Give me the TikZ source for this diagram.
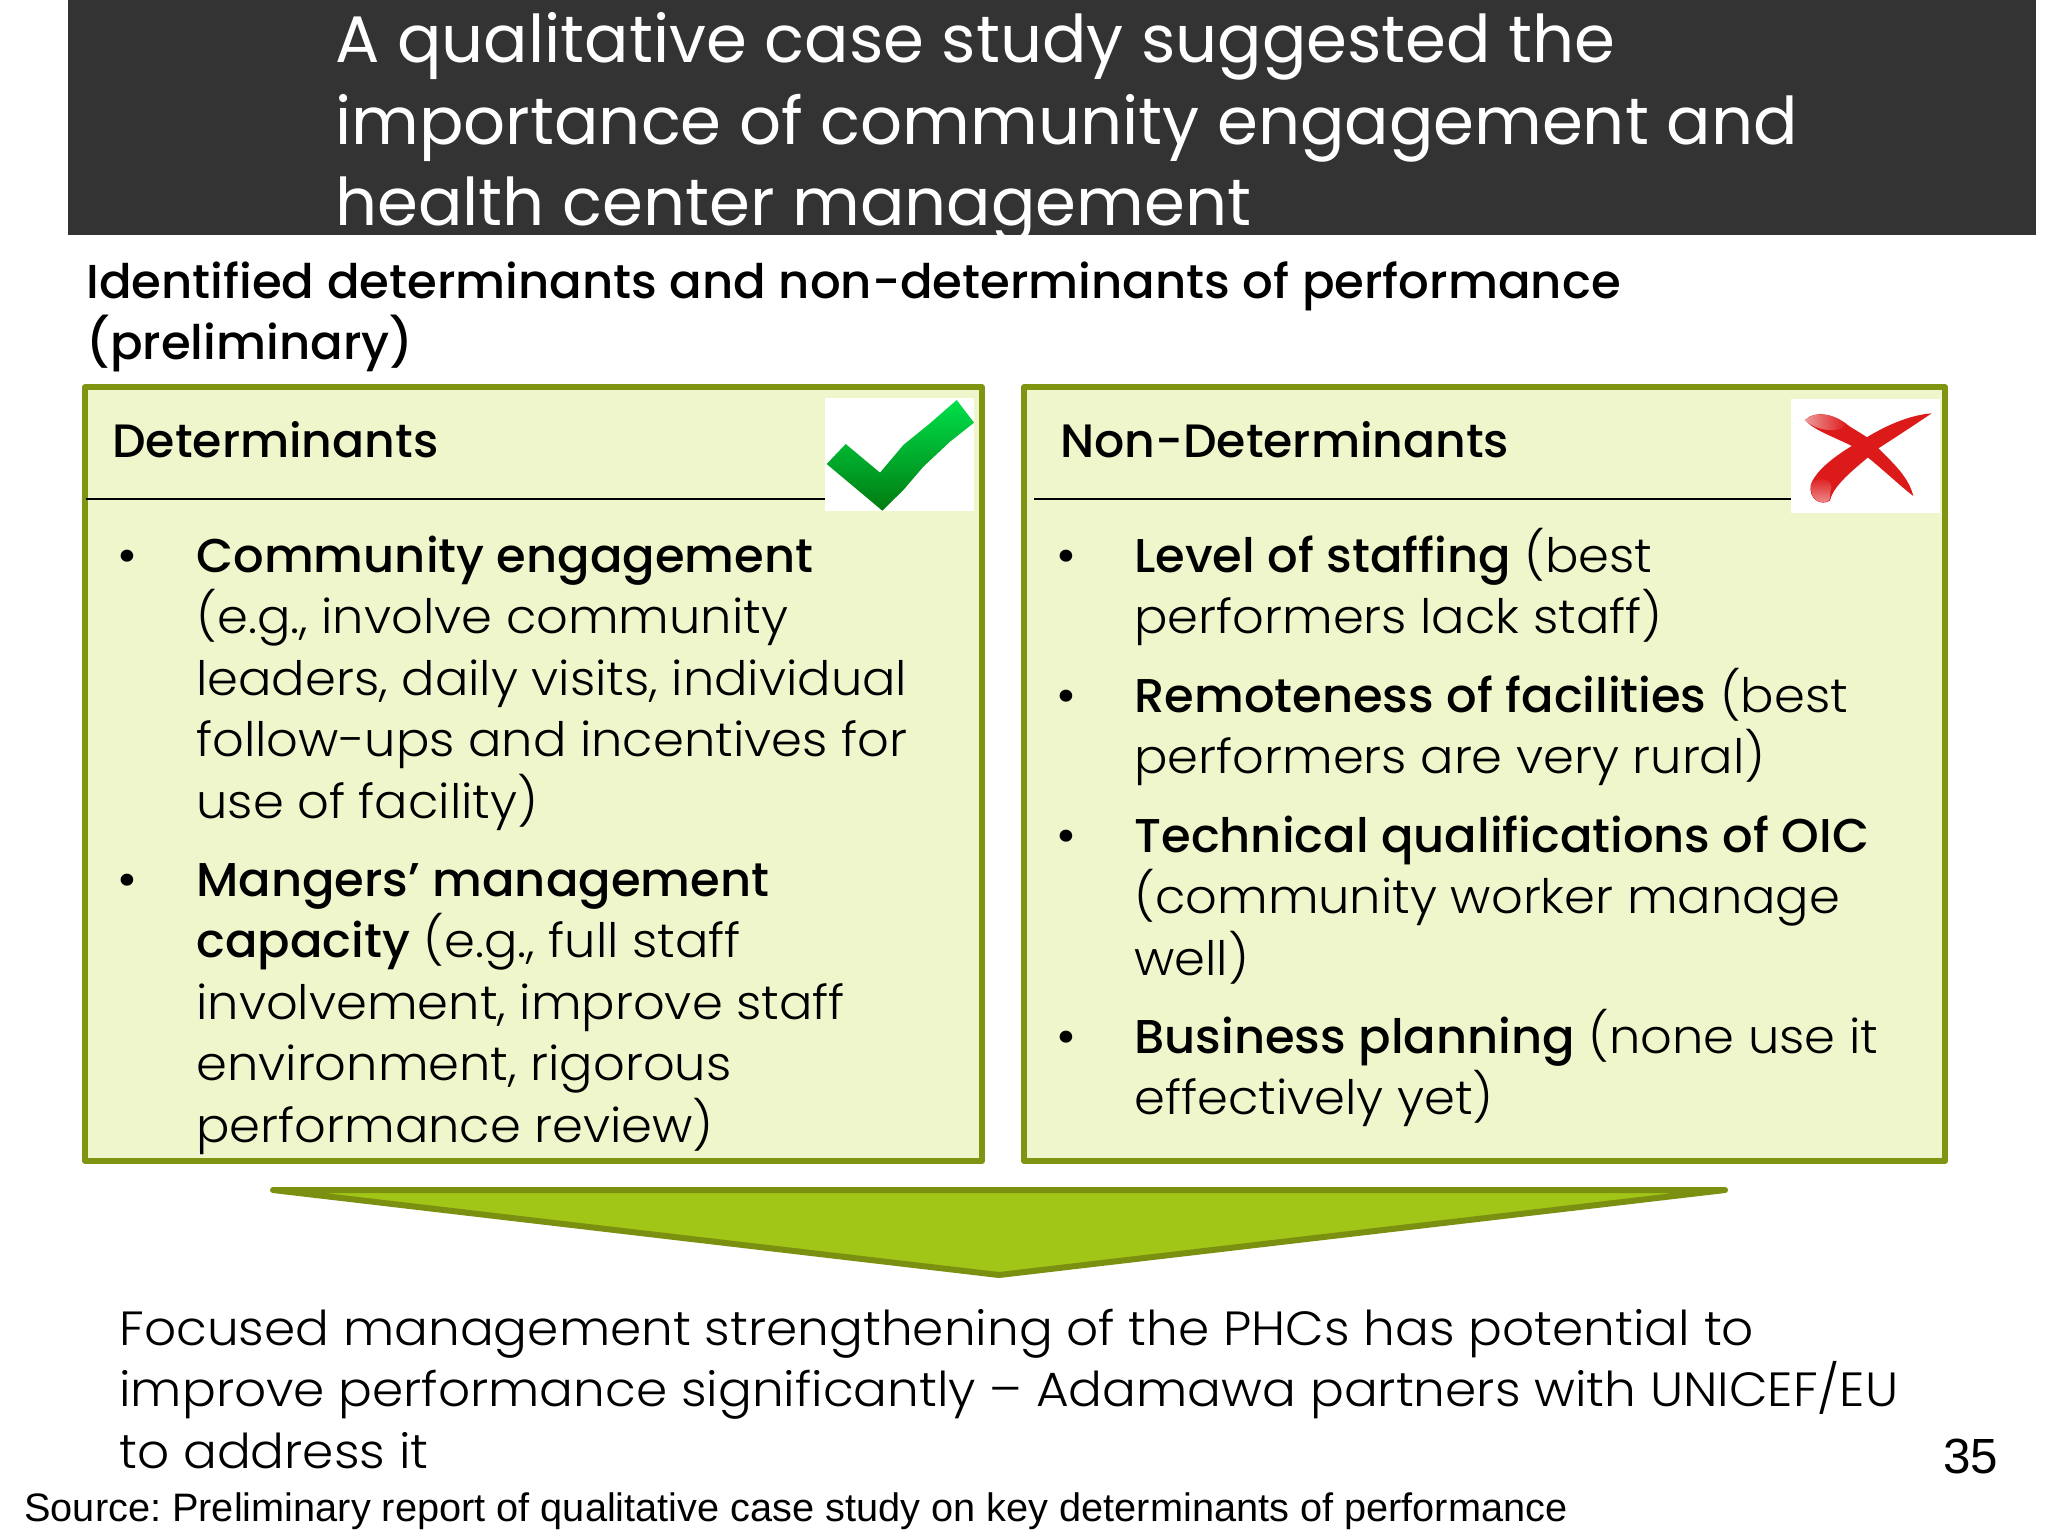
\documentclass[tikz,border=0pt]{standalone}
\usepackage{fontspec}
\setmainfont{Poppins Light}[FakeStretch=1.045,BoldFont=Poppins Medium,BoldFeatures={FakeStretch=1.012}]
\newfontfamily\titlef{Poppins}
\newfontfamily\arialf{Liberation Sans}
\frenchspacing
\definecolor{boxfill}{HTML}{F0F6CC}
\definecolor{boxline}{HTML}{7F9410}
\definecolor{arrowfill}{HTML}{A2C617}
\definecolor{arrowline}{HTML}{7B9010}
\definecolor{headfill}{HTML}{333333}
\definecolor{tickhi}{HTML}{00E04A}
\definecolor{ticklo}{HTML}{007A10}
\definecolor{crossred}{HTML}{DD1A1A}
\definecolor{crosspink}{HTML}{EE9A9A}
\newcommand\fs{\rule{0pt}{30pt}}
\tikzset{
  blk/.style={anchor=north west,inner sep=0pt,align=left,yshift=30pt},
  titletext/.style={blk,text=white,font=\titlef\fontsize{32.9}{40.8}\selectfont},
  subtext/.style={blk,text=black,font=\fontsize{23.8}{30.7}\selectfont\bfseries},
  headtext/.style={blk,text=black,font=\fontsize{23.4}{30.7}\selectfont\bfseries},
  bodytext/.style={blk,text=black,font=\fontsize{23.7}{30.7}\selectfont},
  foottext/.style={blk,text=black,font=\fontsize{24}{30.7}\selectfont},
  bul/.style={anchor=center,inner sep=0pt,font=\fontsize{26}{30.7}\selectfont},
  panel/.style={draw=boxline,fill=boxfill,line width=2.6pt,line join=round},
  rulel/.style={draw=black,line width=1.1pt},
}
\begin{document}
\begin{tikzpicture}[x=0.5pt,y=-0.5pt]
\useasboundingbox (0,0) rectangle (2048,1536);
\fill[white] (0,0) rectangle (2048,1536);
\fill[headfill] (68,0) rectangle (2036,235);
\node[titletext] (title) at (335,62) {\fs A qualitative case study suggested the\\importance of community engagement and\\health center management};
\fill[white] (0,235) rectangle (2048,262);
\node[subtext] (sub) at (86,298) {\fs Identified determinants and non-determinants of performance\\(preliminary)};

\draw[panel] (85,387) rectangle (982,1161);
\draw[panel] (1024,387) rectangle (1945,1161);
\draw[rulel] (86,499) -- (826,499);
\draw[rulel] (1034,499) -- (1792,499);
\fill[white] (825,398) rectangle (974,511);
\fill[white] (1791,399) rectangle (1940,513);
\node[headtext] (dh) at (112,457) {\fs Determinants};
\node[headtext] (nh) at (1060,457) {\fs Non-Determinants};

% tick
\begin{scope}[shift={(780,370)},x=0.16667pt,y=-0.16667pt]
\shade[top color=tickhi,bottom color=ticklo]
 (140,282) -- (197,222) -- (300,308) -- (370,225) -- (450,160) -- (530,90) -- (582,158) -- (510,215) -- (430,290) -- (370,360) -- (307,422) -- cycle;
\end{scope}
% cross
\begin{scope}[shift={(1750,370)},x=0.16667pt,y=-0.16667pt]
\fill[crossred] (545,130) .. controls (480,135) and (410,165) .. (345,205)
 .. controls (290,235) and (200,290) .. (182,345)
 .. controls (175,385) and (210,410) .. (240,392)
 .. controls (250,340) and (330,285) .. (385,235)
 .. controls (440,200) and (500,160) .. (545,130) -- cycle;
\fill[crossred] (165,150) .. controls (195,120) and (250,130) .. (300,170)
 .. controls (340,195) and (370,210) .. (385,235)
 .. controls (430,280) and (475,320) .. (490,378)
 .. controls (440,340) and (370,270) .. (310,230)
 .. controls (250,200) and (190,180) .. (165,150) -- cycle;
\shade[left color=crosspink,right color=crossred] (165,150) .. controls (195,122) and (250,130) .. (290,163) .. controls (270,190) and (200,185) .. (165,150) -- cycle;
\shade[top color=crossred,bottom color=crosspink] (184,340) .. controls (200,320) and (240,320) .. (244,350) .. controls (240,370) and (240,385) .. (238,391) .. controls (210,408) and (175,385) .. (184,340) -- cycle;
\end{scope}

\node[bul] (b1) at (127,562) {•};
\node[bodytext] (t1) at (196,572) {\fs\textbf{Community engagement}\\(e.g., involve community\\leaders, daily visits, individual\\follow-ups and incentives for\\use of facility)};
\node[bul] (b2) at (127,886) {•};
\node[bodytext] (t2) at (196,896) {\fs\textbf{Mangers’ management}\\\textbf{capacity} (e.g., full staff\\involvement, improve staff\\environment, rigorous\\performance review)};

\node[bul] (b3) at (1066,562) {•};
\node[bodytext] (t3) at (1134,572) {\fs\textbf{Level of staffing} (best\\performers lack staff)};
\node[bul] (b4) at (1066,702) {•};
\node[bodytext] (t4) at (1134,712) {\fs\textbf{Remoteness of facilities} (best\\performers are very rural)};
\node[bul] (b5) at (1066,842) {•};
\node[bodytext] (t5) at (1134,852) {\fs\textbf{Technical qualifications of OIC}\\(community worker manage\\well)};
\node[bul] (b6) at (1066,1043) {•};
\node[bodytext] (t6) at (1134,1053) {\fs\textbf{Business planning} (none use it\\effectively yet)};

\draw[fill=arrowfill,draw=arrowline,line width=3pt,line join=round] (273,1190) -- (1725,1190) -- (999,1275) -- cycle;

\node[foottext] (foot) at (119,1345) {\fs Focused management strengthening of the PHCs has potential to\\improve performance significantly – Adamawa partners with UNICEF/EU\\to address it};
\node[anchor=base west,inner sep=0pt,font=\arialf\fontsize{19.86}{24}\selectfont] (src) at (24,1521) {Source: Preliminary report of qualitative case study on key determinants of performance};
\node[anchor=base west,inner sep=0pt,font=\arialf\fontsize{24.7}{28}\selectfont] (pg) at (1943,1473) {35};
\end{tikzpicture}
\end{document}
